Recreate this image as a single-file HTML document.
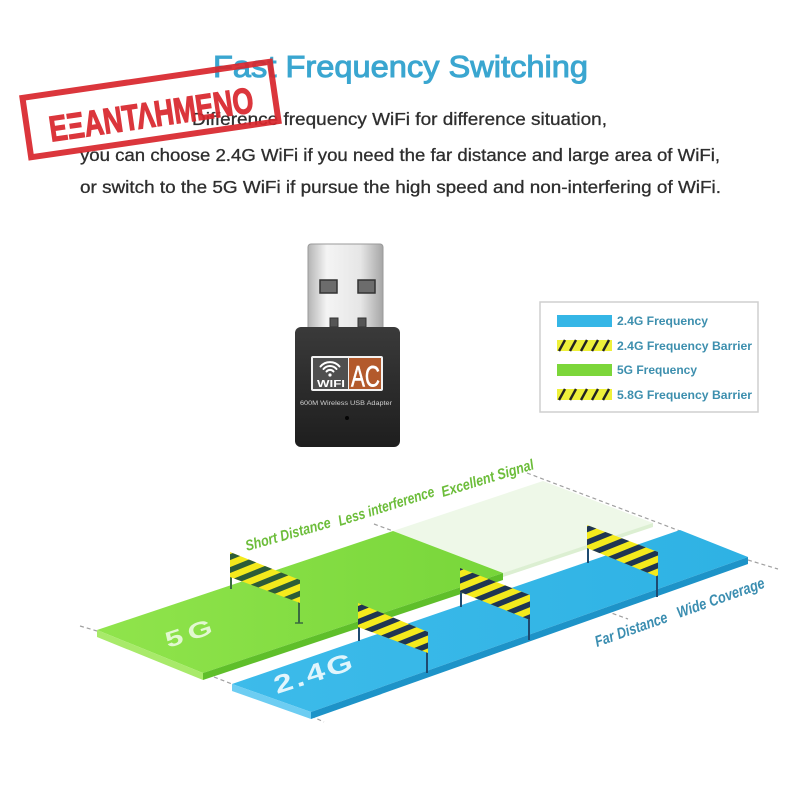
<!DOCTYPE html>
<html>
<head>
<meta charset="utf-8">
<style>
html,body{margin:0;padding:0;background:#fff;}
svg{display:block;}
text{font-family:"Liberation Sans",sans-serif;}
</style>
</head>
<body>
<svg width="800" height="800" viewBox="0 0 800 800" xmlns="http://www.w3.org/2000/svg">
<defs>
  <pattern id="sg" patternUnits="userSpaceOnUse" width="40" height="12" patternTransform="rotate(-22)">
    <rect x="0" y="0" width="40" height="5.5" fill="#2c5c38"/>
  </pattern>
  <pattern id="sb" patternUnits="userSpaceOnUse" width="40" height="12" patternTransform="rotate(-22)">
    <rect x="0" y="0" width="40" height="5.5" fill="#1f3552"/>
  </pattern>
  <linearGradient id="metal" x1="0" y1="0" x2="1" y2="0">
    <stop offset="0" stop-color="#b4b4b4"/>
    <stop offset="0.25" stop-color="#f4f4f4"/>
    <stop offset="0.7" stop-color="#e6e6e6"/>
    <stop offset="1" stop-color="#a6a6a6"/>
  </linearGradient>
  <linearGradient id="body" x1="0" y1="0" x2="0" y2="1">
    <stop offset="0" stop-color="#3a3a3a"/>
    <stop offset="1" stop-color="#1e1e1e"/>
  </linearGradient>
  <linearGradient id="gtop" x1="0" y1="0" x2="1" y2="0">
    <stop offset="0" stop-color="#90e44c"/>
    <stop offset="1" stop-color="#78d63a"/>
  </linearGradient>
  <linearGradient id="btop" x1="0" y1="0" x2="1" y2="0">
    <stop offset="0" stop-color="#3dbbea"/>
    <stop offset="1" stop-color="#2eb2e4"/>
  </linearGradient>
</defs>

<rect width="800" height="800" fill="#ffffff"/>

<!-- Title & description -->
<text x="213" y="77" font-size="31" fill="#3aa6d0" stroke="#3aa6d0" stroke-width="1" textLength="375" lengthAdjust="spacingAndGlyphs">Fast Frequency Switching</text>
<g fill="#2e2e2e" stroke="#2e2e2e" stroke-width="0.3">
<text x="192" y="125" font-size="17.5" textLength="415" lengthAdjust="spacingAndGlyphs">Difference frequency WiFi for difference situation,</text>
<text x="80" y="161" font-size="17.5" textLength="640" lengthAdjust="spacingAndGlyphs">you can choose 2.4G WiFi if you need the far distance and large area of WiFi,</text>
<text x="80" y="193" font-size="17.5" textLength="641" lengthAdjust="spacingAndGlyphs">or switch to the 5G WiFi if pursue the high speed and non-interfering of WiFi.</text>
</g>

<!-- USB adapter -->
<rect x="308" y="244" width="75" height="86" rx="3" fill="url(#metal)" stroke="#9a9a9a" stroke-width="1"/>
<rect x="320" y="280" width="17" height="13" fill="#6c6c6c" stroke="#333" stroke-width="1.5"/>
<rect x="358" y="280" width="17" height="13" fill="#6c6c6c" stroke="#333" stroke-width="1.5"/>
<rect x="330" y="318" width="8" height="9" fill="#555" stroke="#333" stroke-width="1"/>
<rect x="358" y="318" width="8" height="9" fill="#555" stroke="#333" stroke-width="1"/>
<rect x="295" y="327" width="105" height="120" rx="6" fill="url(#body)"/>
<rect x="311" y="356" width="72" height="35" rx="2" fill="#f2f2f2"/>
<rect x="313" y="358" width="35" height="31" fill="#4f4f4f"/>
<rect x="349" y="358" width="32" height="31" fill="#b35a2c"/>
<g fill="none" stroke="#ffffff" stroke-width="2" stroke-linecap="round">
  <path d="M326.5,371.5 A4.5,4.5 0 0 1 333.5,371.5"/>
  <path d="M323.5,369 A8.5,8.5 0 0 1 336.5,369"/>
  <path d="M320.5,366.5 A12.5,12.5 0 0 1 339.5,366.5"/>
</g>
<circle cx="330" cy="375" r="1.6" fill="#fff"/>
<text x="317" y="387" font-size="10" font-weight="bold" fill="#fff" textLength="28" lengthAdjust="spacingAndGlyphs">WIFI</text>
<text x="351" y="386.5" font-size="30" fill="#fff" stroke="#fff" stroke-width="0.6" textLength="29" lengthAdjust="spacingAndGlyphs">AC</text>
<text x="300" y="405" font-size="6.5" fill="#d0d0d0" textLength="92" lengthAdjust="spacingAndGlyphs">600M Wireless USB Adapter</text>
<circle cx="347" cy="418" r="2" fill="#050505"/>

<!-- Legend -->
<rect x="540" y="302" width="218" height="110" fill="#fff" stroke="#cfcfcf" stroke-width="1.5"/>
<rect x="557" y="315" width="55" height="12" fill="#35b6e6"/>
<text x="617" y="325" font-size="11.5" font-weight="bold" fill="#3d8fae" textLength="91" lengthAdjust="spacingAndGlyphs">2.4G Frequency</text>
<rect x="557" y="340" width="55" height="11" fill="#eef03a"/>
<g stroke="#222" stroke-width="2.4">
  <line x1="559" y1="351" x2="565" y2="340"/><line x1="570" y1="351" x2="576" y2="340"/><line x1="581" y1="351" x2="587" y2="340"/><line x1="592" y1="351" x2="598" y2="340"/><line x1="603" y1="351" x2="609" y2="340"/>
</g>
<text x="617" y="350" font-size="11.5" font-weight="bold" fill="#3d8fae" textLength="135" lengthAdjust="spacingAndGlyphs">2.4G Frequency Barrier</text>
<rect x="557" y="364" width="55" height="12" fill="#7cd63a"/>
<text x="617" y="374" font-size="11.5" font-weight="bold" fill="#3d8fae" textLength="80" lengthAdjust="spacingAndGlyphs">5G Frequency</text>
<rect x="557" y="389" width="55" height="11" fill="#eef03a"/>
<g stroke="#222" stroke-width="2.4">
  <line x1="559" y1="400" x2="565" y2="389"/><line x1="570" y1="400" x2="576" y2="389"/><line x1="581" y1="400" x2="587" y2="389"/><line x1="592" y1="400" x2="598" y2="389"/><line x1="603" y1="400" x2="609" y2="389"/>
</g>
<text x="617" y="399" font-size="11.5" font-weight="bold" fill="#3d8fae" textLength="135" lengthAdjust="spacingAndGlyphs">5.8G Frequency Barrier</text>

<!-- Dashed guide lines -->
<g stroke="#a0a0a0" stroke-width="1.2" stroke-dasharray="4 3" fill="none">
  <line x1="80" y1="626" x2="97" y2="631"/>
  <line x1="374" y1="524" x2="393" y2="531"/>
  <line x1="527" y1="473" x2="680" y2="531"/>
  <line x1="748" y1="560" x2="778" y2="569"/>
  <line x1="214" y1="677" x2="232" y2="684"/>
  <line x1="311" y1="716" x2="324" y2="722"/>
  <line x1="606" y1="611" x2="628" y2="619"/>
</g>

<!-- Pale extension of 5G -->
<polygon points="393,531 543,481 653,523 503,573" fill="#eef8e8"/>
<polygon points="503,573 653,523 653,527 503,577" fill="#dcefd2"/>

<!-- 5G platform -->
<polygon points="97,630 393,531 503,573 203,673" fill="url(#gtop)"/>
<polygon points="97,630 203,673 203,680 97,637" fill="#a8ea6a"/>
<polygon points="203,673 503,573 503,580 203,680" fill="#5fbf2a"/>

<!-- 2.4G platform -->
<polygon points="232,684 680,530 748,557 311,712" fill="url(#btop)"/>
<polygon points="232,684 311,712 311,719 232,691" fill="#6dcdf2"/>
<polygon points="311,712 748,557 748,564 311,719" fill="#1d93c8"/>

<!-- Platform labels -->
<text transform="translate(168,648) rotate(-18)" font-size="22" font-weight="bold" fill="#ffffff" fill-opacity="0.75" letter-spacing="4" textLength="54" lengthAdjust="spacingAndGlyphs">5G</text>
<text transform="translate(277,694) rotate(-18)" font-size="25" font-weight="bold" fill="#ffffff" fill-opacity="0.85" letter-spacing="2" textLength="84" lengthAdjust="spacingAndGlyphs">2.4G</text>

<!-- Barrier D -->
<line x1="588" y1="546" x2="588" y2="563" stroke="#1e4a70" stroke-width="2"/>
<line x1="657" y1="575" x2="657" y2="597" stroke="#1e4a70" stroke-width="2"/>
<polygon points="587,525 658,552 658,577 587,548" fill="#f4ea1c"/>
<polygon points="587,525 658,552 658,577 587,548" fill="url(#sb)"/>

<!-- Barrier C -->
<line x1="461" y1="590" x2="461" y2="607" stroke="#1e4a70" stroke-width="2"/>
<line x1="529" y1="618" x2="529" y2="640" stroke="#1e4a70" stroke-width="2"/>
<polygon points="460,568 530,595 530,620 460,592" fill="#f4ea1c"/>
<polygon points="460,568 530,595 530,620 460,592" fill="url(#sb)"/>

<!-- Barrier A (5G) -->
<line x1="231" y1="575" x2="231" y2="589" stroke="#3b6b40" stroke-width="2"/>
<line x1="299" y1="601" x2="299" y2="623" stroke="#3b6b40" stroke-width="2"/>
<line x1="295" y1="623" x2="303" y2="623" stroke="#3b6b40" stroke-width="1.5"/>
<polygon points="230,552 300,580 300,603 230,577" fill="#f4ea1c"/>
<polygon points="230,552 300,580 300,603 230,577" fill="url(#sg)"/>

<!-- Barrier B -->
<line x1="359" y1="625" x2="359" y2="641" stroke="#1e4a70" stroke-width="2"/>
<line x1="427" y1="651" x2="427" y2="673" stroke="#1e4a70" stroke-width="2"/>
<polygon points="358,603 428,632 428,653 358,627" fill="#f4ea1c"/>
<polygon points="358,603 428,632 428,653 358,627" fill="url(#sb)"/>

<!-- Green captions -->
<g fill="#6cbd3a" font-style="italic" font-weight="bold" font-size="15">
  <text transform="translate(247,551) rotate(-15.8)" textLength="88" lengthAdjust="spacingAndGlyphs">Short Distance</text>
  <text transform="translate(340,526) rotate(-17.5)" textLength="100" lengthAdjust="spacingAndGlyphs">Less interference</text>
  <text transform="translate(443,497) rotate(-17)" textLength="96" lengthAdjust="spacingAndGlyphs">Excellent Signal</text>
</g>
<!-- Blue captions -->
<g fill="#3a8db0" font-style="italic" font-weight="bold" font-size="15.5">
  <text transform="translate(597,647) rotate(-19.5)" textLength="76" lengthAdjust="spacingAndGlyphs">Far Distance</text>
  <text transform="translate(679,618) rotate(-19.5)" textLength="92" lengthAdjust="spacingAndGlyphs">Wide Coverage</text>
</g>

<!-- Stamp -->
<g transform="rotate(-8.3 150.5 109.5)" opacity="0.92">
  <rect x="25.5" y="79.5" width="250" height="60" fill="none" stroke="#d9262c" stroke-width="6"/>
  <text x="47.5" y="127" font-size="36" font-weight="bold" fill="#d9262c" stroke="#d9262c" stroke-width="1.2" textLength="206" lengthAdjust="spacingAndGlyphs">ΕΞΑΝΤΛΗΜΕΝΟ</text>
</g>
</svg>
</body>
</html>
